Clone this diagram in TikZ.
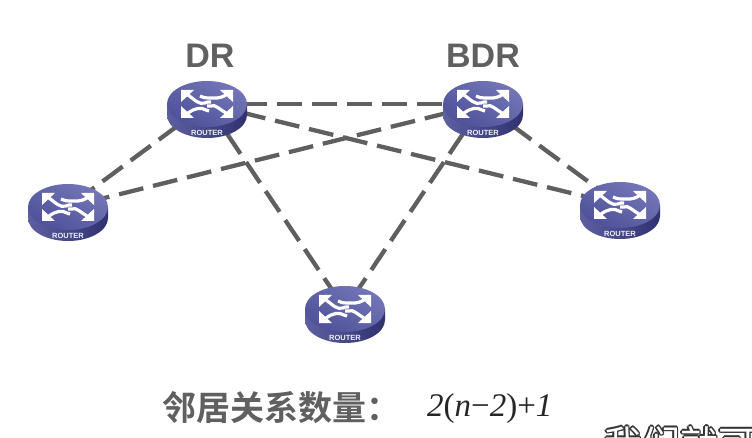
\documentclass[tikz,border=0pt]{standalone}
\usepackage{fontspec}
\setmainfont{Liberation Sans}
\newfontfamily\cjkbold[BoldFont={Noto Sans CJK SC Bold}]{Noto Sans CJK SC}
\newfontfamily\mathserif{Liberation Serif}
\definecolor{linkgray}{HTML}{5F5F5F}
\definecolor{labelgray}{HTML}{606060}
\definecolor{topleft}{HTML}{7476B8}
\definecolor{topright}{HTML}{4F5199}
\definecolor{sideleft}{HTML}{5D5FA0}
\definecolor{sideright}{HTML}{2F3170}
\tikzset{
  link/.style={draw=linkgray,line width=4.3pt,dash pattern=on 25pt off 10pt},
  anchorpt/.style={inner sep=0pt,minimum size=0pt,shape=coordinate},
  toplabel/.style={font=\bfseries\fontsize{34}{34}\selectfont,text=labelgray,inner sep=0pt},
  arrowshaft/.style={draw=white,line width=3.2pt},
  pics/routerpic/.style={code={
    \shade[left color=sideleft,right color=sideright]
      (-40,0) -- (-40,11) arc[start angle=180,end angle=360,x radius=40pt,y radius=23pt]
      -- (40,0) -- cycle;
    \shade[top color=topleft,bottom color=topright,shading angle=-30]
      (0,0) ellipse[x radius=40pt,y radius=23pt];
    \foreach \sx/\sy in {-1/-1,1/-1,-1/1,1/1}{
      \begin{scope}[xscale=\sx,yscale=\sy]
        \fill[white] (26,14) -- (13,14) -- (26,2) -- cycle;
      \end{scope}
    }
    \draw[arrowshaft] (-19,-9) .. controls (-12,-4) and (-8,1) .. (-2,-1) .. controls (0,-2) .. (4,-2);
    \draw[arrowshaft] (19,-9) .. controls (12,-5) and (8,-6) .. (2,-6) .. controls (-2,-6) .. (-7,-8);
    \draw[arrowshaft] (-19,9) .. controls (-12,4) and (-6,3) .. (-1,6) -- (2,7);
    \draw[arrowshaft] (19,9) .. controls (12,5) and (8,0) .. (4,2) -- (0,2);
    \node[text=white!88!topleft,font=\bfseries\fontsize{7.5}{8}\selectfont,inner sep=0pt] at (0,28.5) {ROUTER};
  }}
}
\begin{document}
\begin{tikzpicture}[x=1pt,y=-1pt]
\useasboundingbox (0,0) rectangle (752,438);
\fill[white] (0,0) rectangle (752,438);
\node[anchorpt] (dr) at (207,104) {};
\node[anchorpt] (bdr) at (483,104) {};
\node[anchorpt] (left) at (68,207) {};
\node[anchorpt] (right) at (620,205) {};
\node[anchorpt] (bottom) at (345,309) {};
\draw[link] (dr) -- (bdr);
\draw[link] (dr) -- (left);
\draw[link] (dr) -- (right);
\draw[link] (dr) -- (bottom);
\draw[link] (bdr) -- (left);
\draw[link] (bdr) -- (right);
\draw[link] (bdr) -- (bottom);
\pic at (dr) {routerpic};
\pic at (bdr) {routerpic};
\pic at (left) {routerpic};
\pic at (right) {routerpic};
\pic at (bottom) {routerpic};
\node[toplabel] (drlabel) at (210,56) {DR};
\node[toplabel] (bdrlabel) at (483,56) {BDR};
\node[anchor=west,inner sep=0pt,text=labelgray,font=\cjkbold\bfseries\fontsize{34}{34}\selectfont] (count) at (162,408) {邻居关系数量：};
\node[anchor=west,inner sep=0pt,text=black!85,font=\mathserif\fontsize{33}{33}\selectfont] (formula) at (427,409) {\textit{2}(\textit{n}−\textit{2})+\textit{1}};
\begin{scope}
\clip (0,0) rectangle (752,438);
\foreach \dx/\dy in {-1.5/0,1.5/0,0/-1.5,0/1.5,-1.1/-1.1,1.1/-1.1,-1.1/1.1,1.1/1.1}{
  \node[anchor=west,inner sep=0pt,text=black!80,font=\cjkbold\fontsize{38}{38}\selectfont] at (604+\dx,444+\dy) {我们就可};
}
\node[anchor=west,inner sep=0pt,text=white,font=\cjkbold\fontsize{38}{38}\selectfont] (caption) at (604,444) {我们就可};
\end{scope}
\end{tikzpicture}
\end{document}
